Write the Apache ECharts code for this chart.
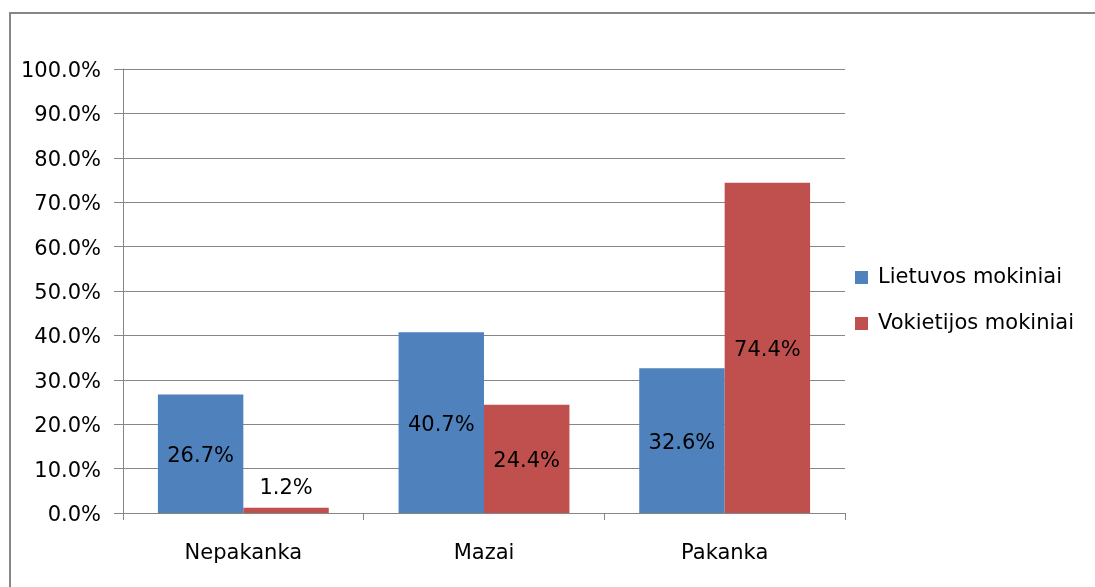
<!DOCTYPE html>
<html>
<head>
<meta charset="utf-8">
<script src="https://cdn.jsdelivr.net/npm/echarts@6/dist/echarts.min.js"></script>
<style>
  html, body { margin: 0; padding: 0; background: #fff; }
  #chart { width: 1095px; height: 587px; }
</style>
</head>
<body>
<div id="chart"></div>
<script>
const categories = ['Nepakanka', 'Mazai', 'Pakanka'];
const lietuva = [26.7, 40.7, 32.6];
const vokietija = [1.2, 24.4, 74.4];
const seriesNames = ['Lietuvos mokiniai', 'Vokietijos mokiniai'];

const font = '"DejaVu Sans", sans-serif';
const fs = 21;

function labelFor(v) {
    // small bars get their label above the bar
    let small = v < 5;
    return {
        value: v,
        label: { position: small ? 'top' : 'inside', offset: [0, small ? 1 : 3] }
    };
}

const chart = echarts.init(document.getElementById('chart'));
chart.setOption({
    animation: false,
    textStyle: { fontFamily: font },
    graphic: [{
        type: 'rect',
        shape: { x: 10, y: 13, width: 1200, height: 700 },
        style: { fill: 'none', stroke: '#868686', lineWidth: 2 },
        silent: true
    }],
    grid: { left: 123, right: 250, top: 69, bottom: 74 },
    legend: {
        orient: 'vertical',
        left: 850,
        top: 262,
        itemWidth: 13,
        itemHeight: 13,
        itemGap: 25,
        icon: 'rect',
        textStyle: { fontFamily: font, fontSize: fs, color: '#000', padding: [0, 0, 0, 5] },
        data: seriesNames
    },
    xAxis: {
        type: 'category',
        data: categories,
        axisLine: { lineStyle: { color: '#868686', width: 1 } },
        axisTick: { show: true, length: 7, lineStyle: { color: '#868686' } },
        axisLabel: { color: '#000', fontSize: fs, margin: 30, fontFamily: font }
    },
    yAxis: {
        type: 'value',
        min: 0,
        max: 100,
        interval: 10,
        axisLine: { show: true, lineStyle: { color: '#868686' } },
        axisTick: { show: true, length: 9, inside: false, lineStyle: { color: '#868686' } },
        splitLine: { lineStyle: { color: '#868686', width: 1 } },
        axisLabel: {
            color: '#000', fontSize: fs, margin: 22, fontFamily: font,
            formatter: v => '{t|' + v.toFixed(1) + '%}',
            rich: {
                t: { fontSize: fs, fontFamily: font, color: '#000', padding: [5, 0, 0, 0] }
            }
        }
    },
    series: [
        {
            name: seriesNames[0],
            type: 'bar',
            data: lietuva.map(labelFor),
            barGap: '0%',
            barCategoryGap: '29%',
            itemStyle: { color: '#4F81BD' },
            label: {
                show: true, color: '#000', fontSize: fs, fontFamily: font,
                formatter: p => p.value.toFixed(1) + '%'
            }
        },
        {
            name: seriesNames[1],
            type: 'bar',
            data: vokietija.map(labelFor),
            itemStyle: { color: '#C0504D' },
            label: {
                show: true, color: '#000', fontSize: fs, fontFamily: font, distance: 10,
                formatter: p => p.value.toFixed(1) + '%'
            }
        }
    ]
});
</script>
</body>
</html>
